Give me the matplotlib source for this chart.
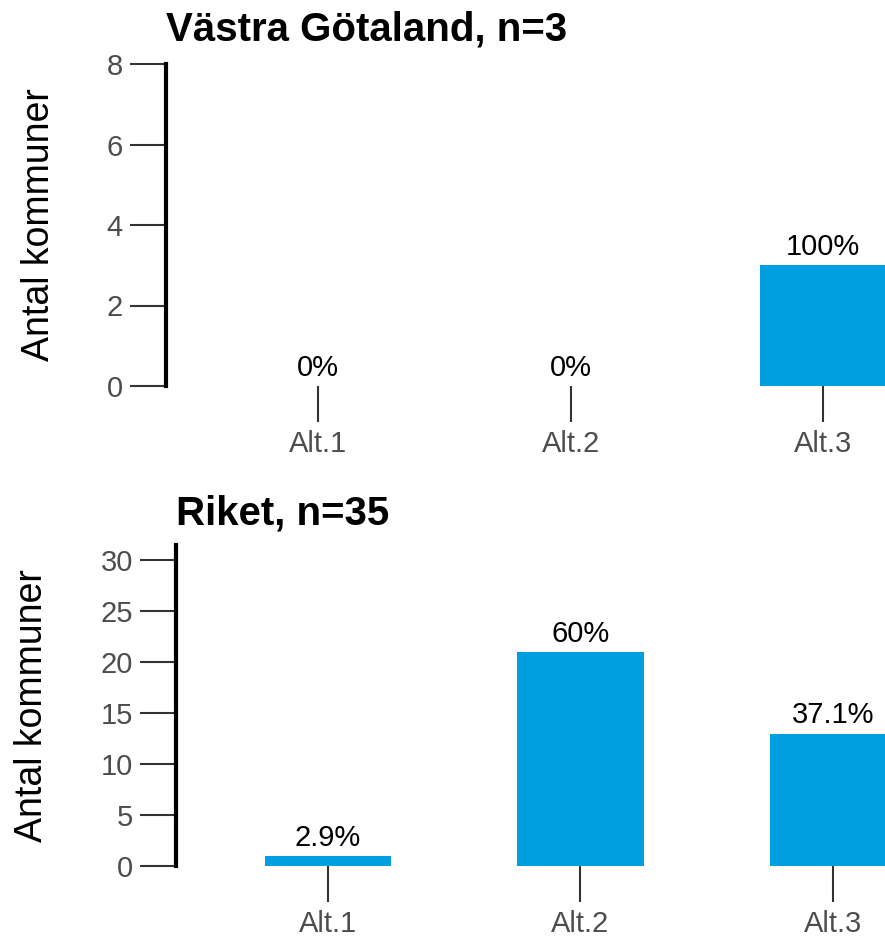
import matplotlib.pyplot as plt

plt.rcParams['font.family'] = ['Liberation Sans', 'DejaVu Sans']

categories = ['Alt.1', 'Alt.2', 'Alt.3']

top_title = 'Västra Götaland, n=3'
top_counts = [0, 0, 3]
top_labels = ['0%', '0%', '100%']
top_yticks = [0, 2, 4, 6, 8]

bottom_title = 'Riket, n=35'
bottom_counts = [1, 21, 13]
bottom_labels = ['2.9%', '60%', '37.1%']
bottom_yticks = [0, 5, 10, 15, 20, 25, 30]

bar_color = '#009fe0'
tick_color = '#4d4d4d'

fig = plt.figure(figsize=(8.85, 9.42), dpi=100)
W, H = 885, 942

def panel(left, top, bottom, right, title, counts, labels, yticks, ylim, xlim, title_pad):
    ax = fig.add_axes([left / W, 1 - bottom / H, (right - left) / W, (bottom - top) / H])
    x = range(len(categories))
    ax.bar(x, counts, width=0.5, color=bar_color, zorder=2)
    for xi, c, lab in zip(x, counts, labels):
        ax.annotate(lab, (xi, c), xytext=(0, 3), textcoords='offset points',
                    ha='center', va='bottom', fontsize=21, color='black')
    ax.set_xlim(*xlim)
    ax.set_ylim(*ylim)
    ax.set_xticks(list(x))
    ax.set_xticklabels(categories)
    ax.set_yticks(yticks)
    for s in ['top', 'right', 'bottom']:
        ax.spines[s].set_visible(False)
    ax.spines['left'].set_linewidth(3)
    ax.spines['left'].set_color('black')
    ax.tick_params(axis='y', length=26, width=1.5, color='#333333', pad=5,
                   labelsize=21, labelcolor=tick_color)
    ax.tick_params(axis='x', length=26, width=1.5, color='#333333', pad=6,
                   labelsize=21, labelcolor=tick_color)
    ax.set_ylabel('Antal kommuner', fontsize=27, labelpad=36)
    ax.set_title(title, loc='left', fontsize=29, fontweight='bold', pad=title_pad)
    return ax

panel(166, 64, 386, 885, top_title, top_counts, top_labels, top_yticks,
      (0, 8), (-0.602, 2.245), 17)
panel(176, 545, 866, 885, bottom_title, bottom_counts, bottom_labels, bottom_yticks,
      (0, 31.5), (-0.602, 2.206), 15)

fig.savefig('out.png', dpi=100)
